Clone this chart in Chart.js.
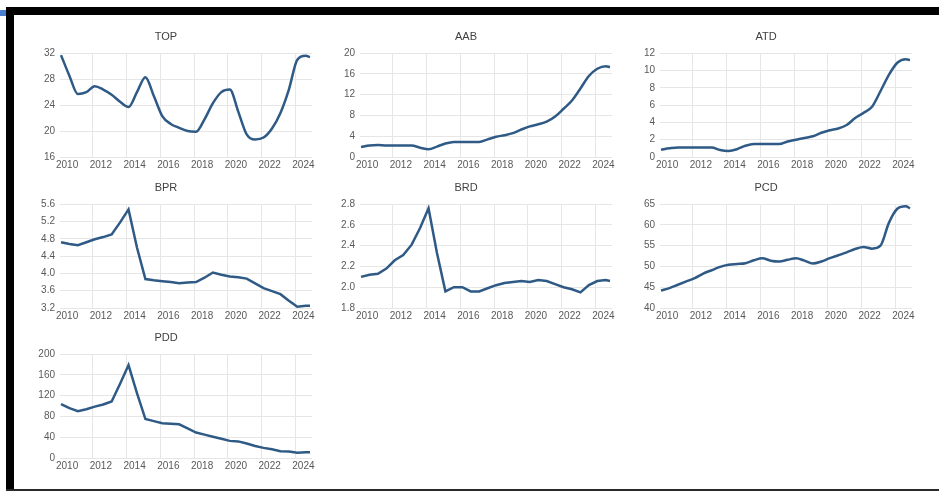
<!DOCTYPE html>
<html>
<head>
<meta charset="utf-8">
<script src="https://cdn.jsdelivr.net/npm/chart.js@4.4.1/dist/chart.umd.min.js"></script>
<style>
  html, body { margin: 0; padding: 0; background: #fff; }
  body { width: 939px; height: 492px; position: relative; overflow: hidden; }
  .bar { position: absolute; background: #000; }
  .panel { position: absolute; width: 300px; height: 150px; }
</style>
</head>
<body>
<div class="bar" style="left:0;top:10px;width:6px;height:6px;background:#4a7fd0"></div>
<div class="bar" style="left:6px;top:7px;right:0;height:8px"></div>
<div class="bar" style="left:6px;top:7px;width:8px;height:483px"></div>
<div class="bar" style="left:6px;top:489px;right:0;height:2px;background:#2a2a2a"></div>

<div class="panel" style="left:20px;top:25px"><canvas id="c-top"></canvas></div>
<div class="panel" style="left:320px;top:25px"><canvas id="c-aab"></canvas></div>
<div class="panel" style="left:620px;top:25px"><canvas id="c-atd"></canvas></div>
<div class="panel" style="left:20px;top:176px"><canvas id="c-bpr"></canvas></div>
<div class="panel" style="left:320px;top:176px"><canvas id="c-brd"></canvas></div>
<div class="panel" style="left:620px;top:176px"><canvas id="c-pcd"></canvas></div>
<div class="panel" style="left:20px;top:326px"><canvas id="c-pdd"></canvas></div>

<script>
// half-year observations, last one is Q4 2024
var periods = [2010, 2010.5, 2011, 2011.5, 2012, 2012.5, 2013, 2013.5, 2014, 2014.5,
               2015, 2015.5, 2016, 2016.5, 2017, 2017.5, 2018, 2018.5, 2019, 2019.5,
               2020, 2020.5, 2021, 2021.5, 2022, 2022.5, 2023, 2023.5, 2024, 2024.5, 2024.75];
var yearTicks = [2010, 2012, 2014, 2016, 2018, 2020, 2022, 2024];

var topValues = [31.7, 28.5, 25.7, 26.0, 26.9, 26.4, 25.6, 24.5, 23.7, 26.0,
                 28.3, 25.4, 22.3, 21.1, 20.5, 20.0, 19.9, 21.8, 24.3, 26.0,
                 26.4, 23.0, 19.5, 18.7, 19.0, 20.4, 22.8, 26.4, 31.0, 31.6, 31.4];
var aabValues = [1.9, 2.2, 2.3, 2.2, 2.2, 2.2, 2.2, 1.8, 1.5, 2.0,
                 2.6, 2.9, 2.9, 2.9, 2.9, 3.4, 3.9, 4.2, 4.6, 5.3,
                 5.9, 6.3, 6.8, 7.8, 9.3, 10.9, 13.2, 15.6, 17.0, 17.5, 17.3];
var atdValues = [0.85, 1.0, 1.1, 1.1, 1.1, 1.1, 1.1, 0.8, 0.7, 0.9,
                 1.3, 1.5, 1.5, 1.5, 1.5, 1.8, 2.0, 2.2, 2.4, 2.8,
                 3.1, 3.3, 3.7, 4.5, 5.1, 5.8, 7.6, 9.5, 10.9, 11.3, 11.2];
var bprValues = [4.72, 4.68, 4.65, 4.72, 4.79, 4.84, 4.90, 5.18, 5.48, 4.60,
                 3.87, 3.84, 3.82, 3.80, 3.77, 3.79, 3.80, 3.90, 4.02, 3.97,
                 3.93, 3.91, 3.88, 3.77, 3.66, 3.59, 3.52, 3.37, 3.23, 3.25, 3.25];
var brdValues = [2.10, 2.12, 2.13, 2.18, 2.26, 2.31, 2.41, 2.57, 2.76, 2.33,
                 1.96, 2.00, 2.00, 1.96, 1.96, 1.99, 2.02, 2.04, 2.05, 2.06,
                 2.05, 2.07, 2.06, 2.03, 2.00, 1.98, 1.95, 2.02, 2.06, 2.07, 2.06];
var pcdValues = [44.2, 44.8, 45.6, 46.4, 47.2, 48.3, 49.1, 49.9, 50.4, 50.6,
                 50.8, 51.5, 52.0, 51.4, 51.2, 51.6, 52.0, 51.4, 50.7, 51.2,
                 52.0, 52.7, 53.4, 54.2, 54.7, 54.3, 55.0, 60.5, 63.9, 64.5, 64.0];
var pddValues = [104, 96, 90, 94, 99, 103, 109, 143, 179, 125,
                 75, 71, 67, 66, 65, 57, 49, 45, 41, 37,
                 33, 32, 28, 23, 19.5, 17, 13, 12.5, 10, 11, 11];

var lineColor = '#2f5a86';
var gridColor = '#e6e6e6';
var tickColor = '#595959';

// vertical grid lines sit a little before each labelled year
var vGrid = {
  id: 'vGrid',
  beforeDatasetsDraw: function(chart) {
    var x = chart.scales.x, area = chart.chartArea, ctx = chart.ctx;
    ctx.save();
    ctx.strokeStyle = gridColor;
    ctx.lineWidth = 1;
    for (var i = 1; i < yearTicks.length; i++) {
      var px = Math.round(x.getPixelForValue(yearTicks[i] - 0.15)) + 0.5;
      ctx.beginPath();
      ctx.moveTo(px, area.top);
      ctx.lineTo(px, area.bottom);
      ctx.stroke();
    }
    ctx.restore();
  }
};

function makePanel(id, title, values, yMin, yMax, step, decimals, smooth) {
  var ctx = document.getElementById(id).getContext('2d');
  return new Chart(ctx, {
    type: 'line',
    data: {
      datasets: [{
        data: periods.map(function(t, i) { return { x: t, y: values[i] }; }),
        borderColor: lineColor,
        borderWidth: 2.5,
        pointRadius: 0,
        fill: false,
        cubicInterpolationMode: smooth ? 'monotone' : 'default',
        tension: 0
      }]
    },
    options: {
      responsive: false,
      animation: false,
      layout: { padding: { right: 8, bottom: 2 } },
      plugins: {
        legend: { display: false },
        tooltip: { enabled: false },
        title: {
          display: true,
          text: title,
          color: '#404040',
          font: { family: 'Liberation Sans, Arial, sans-serif', size: 11, weight: 'normal', lineHeight: 1.2 },
          padding: { top: 5, bottom: 10 }
        }
      },
      scales: {
        x: {
          type: 'linear',
          min: 2009.94,
          max: 2024.87,
          afterBuildTicks: function(scale) {
            scale.ticks = yearTicks.map(function(y) { return { value: y + 0.36 }; });
          },
          afterFit: function(scale) { scale.height = 16; },
          grid: { display: false, drawTicks: false },
          border: { display: false },
          ticks: {
            autoSkip: false,
            maxRotation: 0,
            padding: 2,
            color: tickColor,
            font: { family: 'Liberation Sans, Arial, sans-serif', size: 10 },
            callback: function(v, i) { return String(yearTicks[i]); }
          }
        },
        y: {
          min: yMin,
          max: yMax,
          afterFit: function(scale) { scale.width = 40; },
          grid: { color: gridColor, drawTicks: false },
          border: { display: false },
          ticks: {
            stepSize: step,
            padding: 5,
            color: tickColor,
            font: { family: 'Liberation Sans, Arial, sans-serif', size: 10 },
            callback: function(v) { return Number(v).toFixed(decimals); }
          }
        }
      }
    },
    plugins: [vGrid]
  });
}

function sizeCanvases() {
  var list = document.querySelectorAll('canvas');
  for (var i = 0; i < list.length; i++) {
    list[i].width = 300;
    list[i].height = 150;
  }
}
sizeCanvases();

makePanel('c-top', 'TOP', topValues, 16, 32, 4, 0, true);
makePanel('c-aab', 'AAB', aabValues, 0, 20, 4, 0, true);
makePanel('c-atd', 'ATD', atdValues, 0, 12, 2, 0, true);
makePanel('c-bpr', 'BPR', bprValues, 3.2, 5.6, 0.4, 1, false);
makePanel('c-brd', 'BRD', brdValues, 1.8, 2.8, 0.2, 1, false);
makePanel('c-pcd', 'PCD', pcdValues, 40, 65, 5, 0, true);
makePanel('c-pdd', 'PDD', pddValues, 0, 200, 40, 0, false);
</script>
</body>
</html>
